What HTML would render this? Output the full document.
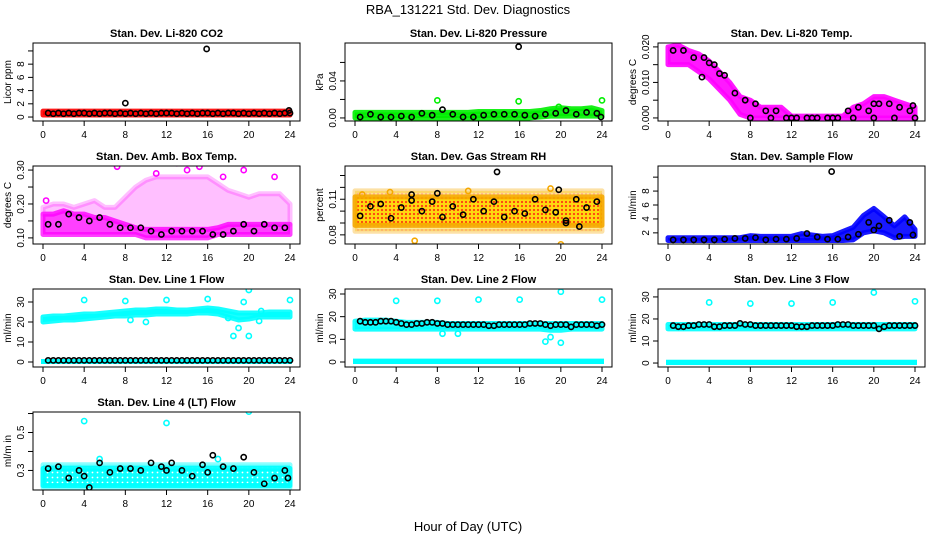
<!DOCTYPE html>
<html><head><meta charset="utf-8"><style>
body{margin:0;background:#fff}
svg text{font-family:"Liberation Sans",sans-serif;fill:#000}
.t{font-size:11px;font-weight:bold}
.k{font-size:10px}
</style></head><body>
<svg id="c" width="936" height="540" xmlns="http://www.w3.org/2000/svg">
<defs>
<pattern id="rhpat" width="4" height="4" patternUnits="userSpaceOnUse"><rect width="4" height="4" fill="#ffd400"/><circle cx="2" cy="2" r="1.1" fill="#ff3000"/></pattern>
<pattern id="cypat" width="5" height="5" patternUnits="userSpaceOnUse"><rect width="5" height="5" fill="#00ffff"/><circle cx="2.5" cy="2.5" r="0.9" fill="#ffffff"/></pattern>
</defs>
<rect width="936" height="540" fill="#fff"/>
<text x="468" y="14" text-anchor="middle" font-size="13">RBA_131221  Std. Dev. Diagnostics</text>
<text x="468" y="531" text-anchor="middle" font-size="13">Hour of Day (UTC)</text>
</svg>
<script>
const HOURS=[0,1,2,3,4,5,6,7,8,9,10,11,12,13,14,15,16,17,18,19,20,21,22,23,24];
const HALF=[0.5,1,1.5,2,2.5,3,3.5,4,4.5,5,5.5,6,6.5,7,7.5,8,8.5,9,9.5,10,10.5,11,11.5,12,12.5,13,13.5,14,14.5,15,15.5,16,16.5,17,17.5,18,18.5,19,19.5,20,20.5,21,21.5,22,22.5,23,23.5,24];
const HOUR_MID=[0.5,1.5,2.5,3.5,4.5,5.5,6.5,7.5,8.5,9.5,10.5,11.5,12.5,13.5,14.5,15.5,16.5,17.5,18.5,19.5,20.5,21.5,22.5,23.5];
const X_TICKS=[0,4,8,12,16,20,24];

// CO2
const co2Lo=[0.3,0.3,0.3,0.3,0.3,0.3,0.3,0.3,0.3,0.3,0.3,0.3,0.3,0.3,0.3,0.3,0.3,0.3,0.3,0.3,0.3,0.3,0.3,0.3,0.3];
const co2Hi=[0.9,0.9,0.9,0.9,0.9,0.9,0.9,0.9,0.9,0.9,0.9,0.9,0.9,0.9,0.9,0.9,0.9,0.9,0.9,0.9,0.9,0.9,0.9,0.9,0.9];
const co2Black=[0.6,0.5,0.6,0.5,0.6,0.5,0.6,0.6,0.5,0.6,0.5,0.6,0.6,0.5,0.6,0.5,0.6,0.5,0.6,0.5,0.6,0.5,0.6,0.6,0.6,0.5,0.6,0.5,0.6,0.5,0.6,0.6,0.5,0.6,0.5,0.6,0.6,0.5,0.6,0.5,0.6,0.5,0.6,0.5,0.6,0.5,0.6,0.6];
const co2ExtraX=[8,15.9,23.9];const co2ExtraY=[2.1,10.3,1.0];

// Pressure
const prLo=[0,0,0,0,0,0,0,0,0,0,0,0,0,0,0,0,0,0,0.001,0.002,0.002,0.002,0.002,0.002,0.002];
const prHi=[0.006,0.006,0.006,0.006,0.006,0.006,0.006,0.006,0.006,0.006,0.006,0.006,0.007,0.007,0.007,0.007,0.007,0.007,0.008,0.010,0.011,0.010,0.010,0.011,0.008];
const prBlack=[0.001,0.004,0.001,0.001,0.002,0.001,0.005,0.003,0.009,0.004,0.001,0.001,0.003,0.004,0.004,0.004,0.003,0.002,0.004,0.005,0.008,0.004,0.006,0.005];
const prExtraX=[15.9,23.9];const prExtraY=[0.077,0.001];
const prOutX=[8,15.9,24,19.8];const prOutY=[0.019,0.018,0.019,0.012];

// Li-820 temp
const tpLo=[0.015,0.015,0.015,0.013,0.011,0.008,0.005,0.001,0,0,0,0,0,0,0,0,0,0,0,0,0,0,0,0,0];
const tpHi=[0.020,0.0205,0.019,0.018,0.016,0.013,0.010,0.006,0.005,0.003,0.003,0.003,0.0005,0.0005,0.0005,0.0005,0.0005,0.0005,0.003,0.004,0.006,0.006,0.005,0.004,0.003];
const tpBlack=[0.019,0.019,0.017,0.017,0.015,0.012,0.007,0.005,0.004,0.002,0.002,0,0,0,0,0,0,0.002,0.003,0.002,0.004,0.004,0.003,0.002];
const tpExtraX=[3.3,4,5,20,23.8,8,10,12,14,16,18,20,22,24];
const tpExtraY=[0.0115,0.0155,0.0125,0.004,0.0035,0,0,0,0,0,0,0,0,0];

// Amb box temp
const abLo=[0.11,0.11,0.11,0.11,0.11,0.11,0.11,0.11,0.11,0.11,0.10,0.10,0.10,0.10,0.10,0.10,0.10,0.11,0.11,0.11,0.11,0.11,0.11,0.11,0.11];
const abHi=[0.17,0.17,0.18,0.17,0.17,0.16,0.16,0.15,0.14,0.13,0.125,0.125,0.125,0.125,0.125,0.125,0.125,0.13,0.14,0.14,0.14,0.14,0.14,0.14,0.14];
const abHi2=[0.19,0.20,0.20,0.19,0.20,0.21,0.19,0.19,0.22,0.25,0.27,0.28,0.28,0.28,0.28,0.28,0.28,0.26,0.24,0.23,0.22,0.23,0.23,0.23,0.20];
const abBlack=[0.14,0.14,0.17,0.16,0.15,0.16,0.14,0.13,0.13,0.13,0.12,0.11,0.12,0.12,0.12,0.12,0.11,0.11,0.12,0.14,0.12,0.14,0.13,0.13];
const abOutX=[0.3,7.2,13,15.2,19.5,22.5,11,14,17.5];const abOutY=[0.21,0.31,0.32,0.31,0.30,0.28,0.29,0.30,0.28];

// RH
const rhLo=[0.088,0.088,0.088,0.088,0.088,0.088,0.088,0.088,0.088,0.088,0.088,0.088,0.088,0.088,0.088,0.088,0.088,0.088,0.088,0.088,0.088,0.088,0.088,0.088,0.088];
const rhHi=[0.112,0.112,0.112,0.112,0.112,0.112,0.112,0.112,0.112,0.112,0.112,0.112,0.112,0.112,0.112,0.112,0.112,0.112,0.112,0.112,0.112,0.112,0.112,0.112,0.112];
const rhLo2=[0.083,0.083,0.083,0.083,0.083,0.083,0.083,0.083,0.083,0.083,0.083,0.083,0.083,0.083,0.083,0.083,0.083,0.083,0.083,0.083,0.083,0.083,0.083,0.083,0.083];
const rhHi2=[0.117,0.117,0.117,0.117,0.117,0.117,0.117,0.117,0.117,0.117,0.117,0.117,0.117,0.117,0.117,0.117,0.117,0.117,0.117,0.117,0.117,0.117,0.117,0.117,0.117];
const rhBlack=[0.096,0.104,0.106,0.094,0.103,0.109,0.100,0.108,0.095,0.104,0.097,0.110,0.100,0.108,0.095,0.100,0.098,0.110,0.101,0.099,0.092,0.110,0.103,0.108];
const rhExtraX=[5.5,8,13.8,19.8,20.5,21.8];const rhExtraY=[0.114,0.115,0.133,0.118,0.090,0.087];
const rhOutX=[5.8,20,0.7,3.4,11,19];const rhOutY=[0.075,0.072,0.114,0.116,0.117,0.119];

// Sample flow
const sfLo=[0.9,0.9,0.9,0.9,0.9,0.9,0.9,0.9,0.9,0.9,0.9,0.9,0.9,0.9,0.9,0.9,0.9,0.9,1.0,2.0,2.3,2.0,1.3,1.5,1.5];
const sfHi=[1.3,1.3,1.3,1.3,1.3,1.3,1.3,1.3,1.6,1.5,1.5,1.5,1.5,1.9,1.7,1.5,1.6,2.2,2.8,4.5,5.5,4.3,3.0,4.3,2.5];
const sfBlack=[1.0,1.0,1.0,1.0,1.0,1.1,1.2,1.2,1.3,1.0,1.1,1.1,1.2,1.9,1.4,1.1,1.1,1.4,1.8,3.5,3.0,3.8,1.5,3.5];
const sfExtraX=[15.9,23.8,20];const sfExtraY=[10.8,1.7,2.4];

// Line 1
const l1Lo=[20,20.5,21,21,21.5,22,22.5,23,23,23.5,23.5,24,24,24,24,24.5,24.5,24,22.5,21,21.5,22.5,22.5,22.5,22.5];
const l1Hi=[22.5,23,23,23.5,24,24,24.5,25,25.5,26,26,26.5,26.5,26,26,26.5,27,26.5,25.5,24.5,24.5,24.5,25,25,25];
const l1Black=[0.8,0.8,0.8,0.8,0.8,0.8,0.8,0.8,0.8,0.8,0.8,0.8,0.8,0.8,0.8,0.8,0.8,0.8,0.8,0.8,0.8,0.8,0.8,0.8,0.8,0.8,0.8,0.8,0.8,0.8,0.8,0.8,0.8,0.8,0.8,0.8,0.8,0.8,0.8,0.8,0.8,0.8,0.8,0.8,0.8,0.8,0.8,0.8];
const l1OutX=[4,8,12,16,20,24,8.5,10,18.5,19,19.5,20,21,21.2,18];
const l1OutY=[31,30.5,31,31.5,36,31,21,20,13,17,30,13,20.5,25.5,22];

// Line 2
const l2Lo=[14.5,14.5,14.5,14.5,14.5,14.5,14.5,14.5,14.5,14.5,14.5,14.5,14.5,14.5,14.5,14.5,14.5,14.5,14.5,14,14,14.5,14.5,14.5,14.5];
const l2Hi=[18,18.5,18.5,18.5,18,17.5,17.5,17.5,17.5,17,17,17,17,17,17,17,17,17,17,17,17,17,17,17,17];
const l2Black=[18,17.5,17.5,17.5,18,18,18,17.5,17,16.5,16.5,17,17,17.5,17.5,17,17,16.5,16.5,16.5,16.5,16.5,16.5,16.5,16.5,16,16,16.5,16.5,16.5,16.5,16.5,16.5,17,17,17,16.5,16,16.5,16.5,16.5,15.5,16.5,16.5,16.5,16.5,16,16.5];
const l2OutX=[4,8,12,16,20,24,18.5,19,20,10,8.5];
const l2OutY=[27,27,27.5,27.5,31,27.5,9,11,8.5,12.5,12.5];

// Line 3
const l3Lo=[15.5,15.5,15.5,15.5,15.5,15.5,15.5,15.5,15.5,15.5,15.5,15.5,15.5,15.5,15.5,15.5,15.5,15.5,15.5,15.5,15.5,15.5,15.5,15.5,15.5];
const l3Hi=[17.5,17.5,17.5,17.5,17.5,17.5,17.5,17.5,17.5,17.5,17.5,17.5,17.5,17.5,17.5,17.5,17.5,17.5,17.5,17.5,17.5,17.5,17.5,17.5,17.5];
const l3Black=[17,16.5,16.5,17,17,17.5,17.5,17.5,16.5,16.5,17,17,17,18,17.5,17.5,17,17,17,17,17,17,17,17,16.5,16.5,16.5,17,17,17,17,17,17.5,17.5,17.5,17,17,17,17,17,15.5,16.5,17,17,17,17,17,17];
const l3OutX=[4,8,12,16,20,24];const l3OutY=[27.5,27,27,27.5,32,28];

// Line 4
const l4Lo=[0.22,0.22,0.22,0.22,0.22,0.22,0.22,0.22,0.22,0.22,0.22,0.22,0.22,0.22,0.22,0.22,0.22,0.22,0.22,0.22,0.22,0.22,0.22,0.22,0.22];
const l4Hi=[0.31,0.31,0.31,0.31,0.31,0.31,0.31,0.31,0.31,0.31,0.31,0.31,0.31,0.31,0.31,0.31,0.31,0.31,0.31,0.31,0.31,0.31,0.31,0.31,0.31];
const l4Lo2=[0.21,0.21,0.21,0.21,0.21,0.21,0.21,0.21,0.21,0.21,0.21,0.21,0.21,0.21,0.21,0.21,0.21,0.21,0.21,0.21,0.21,0.21,0.21,0.21,0.21];
const l4Hi2=[0.33,0.33,0.33,0.33,0.33,0.33,0.33,0.33,0.33,0.33,0.33,0.33,0.33,0.33,0.33,0.33,0.33,0.33,0.33,0.33,0.33,0.33,0.33,0.33,0.33];
const l4Black=[0.31,0.32,0.26,0.30,0.21,0.34,0.29,0.31,0.31,0.30,0.34,0.32,0.34,0.30,0.27,0.33,0.38,0.32,0.31,0.37,0.29,0.23,0.26,0.30];
const l4ExtraX=[4,12,16,23.8];const l4ExtraY=[0.27,0.30,0.29,0.26];
const l4OutX=[4,12,20,5.5,17];const l4OutY=[0.56,0.55,0.61,0.36,0.36];

const COLS=[33,345,658], ROWS=[43,166,289,412], PW=267, PH=78;
const panels=[
 {id:'co2',c:0,r:0,title:'Stan. Dev. Li-820 CO2',ylab:'Licor ppm',yr:[-0.6,11.2],ticks:[0,2,4,6,8,10],labs:['0','2','4','6','8',''],col:'#ff0000',lo:co2Lo,hi:co2Hi,bx:HALF,by:co2Black,ex:co2ExtraX,ey:co2ExtraY},
 {id:'pressure',c:1,r:0,title:'Stan. Dev. Li-820 Pressure',ylab:'kPa',yr:[-0.0033,0.081],ticks:[0,0.02,0.04,0.06],labs:['0.00','','0.04',''],col:'#00ee00',lo:prLo,hi:prHi,bx:HOUR_MID,by:prBlack,ex:prExtraX,ey:prExtraY,ox:prOutX,oy:prOutY},
 {id:'li820-temp',c:2,r:0,title:'Stan. Dev. Li-820 Temp.',ylab:'degrees C',yr:[-0.00086,0.0211],ticks:[0,0.005,0.01,0.015,0.02],labs:['0.000','','0.010','','0.020'],col:'#ff00ff',lo:tpLo,hi:tpHi,bx:HOUR_MID,by:tpBlack,ex:tpExtraX,ey:tpExtraY},
 {id:'amb-box-temp',c:0,r:1,title:'Stan. Dev. Amb. Box Temp.',ylab:'degrees C',yr:[0.082,0.312],ticks:[0.1,0.15,0.2,0.25,0.3],labs:['0.10','','0.20','','0.30'],col:'#ff00ff',lo2:abHi,hi2:abHi2,op2:0.25,op:0.75,lo:abLo,hi:abHi,bx:HOUR_MID,by:abBlack,ox:abOutX,oy:abOutY},
 {id:'gas-rh',c:1,r:1,title:'Stan. Dev. Gas Stream RH',ylab:'percent',yr:[0.0723,0.138],ticks:[0.08,0.09,0.1,0.11,0.12,0.13],labs:['0.08','','','0.11','',''],col:'#f5a800',fill:'url(#rhpat)',lo2:rhLo2,hi2:rhHi2,op2:0.35,lo:rhLo,hi:rhHi,bx:HOUR_MID,by:rhBlack,ex:rhExtraX,ey:rhExtraY,ox:rhOutX,oy:rhOutY},
 {id:'sample-flow',c:2,r:1,title:'Stan. Dev. Sample Flow',ylab:'ml/min',yr:[0.4,11.6],ticks:[2,4,6,8,10],labs:['2','4','6','8',''],col:'#0000ff',lo:sfLo,hi:sfHi,bx:HOUR_MID,by:sfBlack,ex:sfExtraX,ey:sfExtraY},
 {id:'line1-flow',c:0,r:2,title:'Stan. Dev. Line 1 Flow',ylab:'ml/min',yr:[-2.5,36.5],ticks:[0,10,20,30],labs:['0','10','20','30'],col:'#00ffff',lo:l1Lo,hi:l1Hi,base:true,bx:HALF,by:l1Black,ox:l1OutX,oy:l1OutY},
 {id:'line2-flow',c:1,r:2,title:'Stan. Dev. Line 2 Flow',ylab:'ml/min',yr:[-2.2,32.2],ticks:[0,10,20,30],labs:['0','10','20','30'],col:'#00ffff',lo:l2Lo,hi:l2Hi,base:true,bx:HALF,by:l2Black,ox:l2OutX,oy:l2OutY},
 {id:'line3-flow',c:2,r:2,title:'Stan. Dev. Line 3 Flow',ylab:'ml/min',yr:[-1.8,33.6],ticks:[0,10,20,30],labs:['0','10','20','30'],col:'#00ffff',lo:l3Lo,hi:l3Hi,base:true,bx:HALF,by:l3Black,ox:l3OutX,oy:l3OutY},
 {id:'line4-flow',c:0,r:3,title:'Stan. Dev. Line 4 (LT) Flow',ylab:'ml/m in',yr:[0.197,0.608],ticks:[0.3,0.4,0.5,0.6],labs:['0.3','','0.5',''],col:'#00ffff',fill:'url(#cypat)',lo2:l4Lo2,hi2:l4Hi2,op2:0.45,lo:l4Lo,hi:l4Hi,bx:HOUR_MID,by:l4Black,ex:l4ExtraX,ey:l4ExtraY,ox:l4OutX,oy:l4OutY}
];
const svg=document.getElementById('c');
const NS='http://www.w3.org/2000/svg';
function mk(tag,attrs,parent){const e=document.createElementNS(NS,tag);for(const k in attrs)e.setAttribute(k,attrs[k]);(parent||svg).appendChild(e);return e;}
panels.forEach(p=>{
 const L=COLS[p.c],T=ROWS[p.r],B=T+PH,R=L+PW;
 const xs=h=>L+10+h*(PW-20)/24;
 const ys=v=>B-(v-p.yr[0])/(p.yr[1]-p.yr[0])*PH;
 const g=mk('g',{});
 
 
 const cp=mk('clipPath',{id:'cp'+p.id},g);mk('rect',{x:L,y:T,width:PW,height:PH},cp);
 const pg=mk('g',{'clip-path':'url(#cp'+p.id+')'},g);
 function band(lo,hi,op,name,fill){
  let d='M'+xs(HOURS[0])+','+ys(hi[0]);
  for(let i=1;i<HOURS.length;i++)d+='L'+xs(HOURS[i])+','+ys(hi[i]);
  for(let i=HOURS.length-1;i>=0;i--)d+='L'+xs(HOURS[i])+','+ys(lo[i]);
  const e=mk('path',{d:d+'Z',fill:fill,'fill-opacity':op,stroke:p.col,'stroke-width':5,'stroke-opacity':op,'stroke-linejoin':'round'},pg);
  
  
 }
 if(p.lo2){band(p.lo2,p.hi2,p.op2||0.35,'sparse-band',p.fill||p.col);}
 band(p.lo,p.hi,p.op||0.9,'dense-band',p.fill||p.col);
 if(p.base){const e=mk('rect',{x:xs(0)-2,y:ys(1.5),width:xs(24)-xs(0)+4,height:ys(0)-ys(1.5)+2,fill:p.col},pg);
  
  }
 function pts(X,Y,col,name){if(!X)return;for(let i=0;i<X.length;i++){
  const e=mk('circle',{cx:xs(X[i]),cy:ys(Y[i]),r:2.6,fill:'none',stroke:col,'stroke-width':1.6},pg);
  
  }}
 pts(p.ox,p.oy,p.col,'outlier-point');
 pts(p.bx,p.by,'#000','black-point');
 pts(p.ex,p.ey,'#000','black-point');
 mk('rect',{x:L,y:T,width:PW,height:PH,fill:'none',stroke:'#000','stroke-width':1},g);
 X_TICKS.forEach(t=>{const x=xs(t);mk('line',{x1:x,y1:B,x2:x,y2:B+5,stroke:'#000'},g);
  const tx=mk('text',{x:x,y:B+17,'text-anchor':'middle',class:'k'},g);tx.textContent=t;
  
  });
 mk('line',{x1:xs(0),y1:B,x2:xs(24),y2:B,stroke:'#000'},g);
 p.ticks.forEach((t,i)=>{const y=ys(t);mk('line',{x1:L-5,y1:y,x2:L,y2:y,stroke:'#000'},g);
  if(p.labs[i]){const tx=mk('text',{x:L-9,y:y,'text-anchor':'middle',class:'k',transform:'rotate(-90 '+(L-9)+' '+y+')'},g);tx.textContent=p.labs[i];
  
  }});
 const ti=mk('text',{x:(L+R)/2,y:T-6,'text-anchor':'middle',class:'t'},g);ti.textContent=p.title;
 
 
 const yl=mk('text',{x:L-22,y:(T+B)/2,'text-anchor':'middle',class:'k',transform:'rotate(-90 '+(L-22)+' '+(T+B)/2+')'},g);yl.textContent=p.ylab;
 
 
});
</script>
</body></html>
